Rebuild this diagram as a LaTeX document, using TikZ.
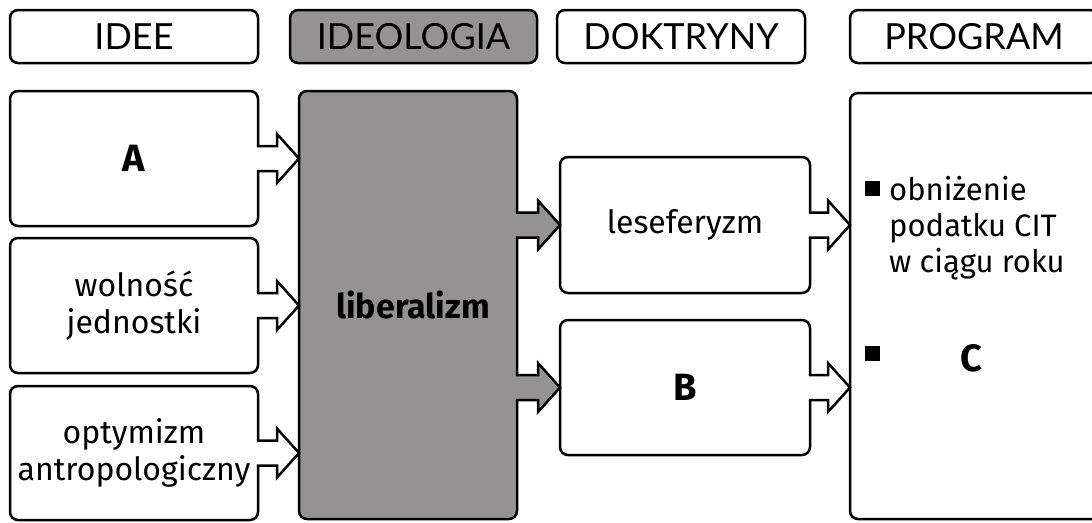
\documentclass[tikz,border=0pt]{standalone}
\usepackage{fontspec}
\setmainfont{Fira Sans}
\newfontfamily\headfont{Lato}
\usetikzlibrary{calc}
\definecolor{boxgray}{RGB}{148,146,147}
\tikzset{
  box/.style={draw=black, line width=2.5pt, rounded corners=8pt, fill=white,
    inner sep=0pt, outer sep=0pt, anchor=north west, align=center},
  graybox/.style={box, fill=boxgray},
  headtxt/.style={font=\headfont\fontsize{36}{40}\selectfont},
  bodytxt/.style={font=\fontsize{32}{37}\selectfont},
  progtxt/.style={font=\fontsize{31}{36}\selectfont},
  bigtxt/.style={font=\bfseries\fontsize{38}{40}\selectfont},
  arrline/.style={draw=black, line width=2.5pt, line join=miter},
}
\newcommand\blockarr[3]{%
  \path (#1.east) coordinate (bs) (#1.east -| #2.west) coordinate (bt);
  \fill[#3] ($(bs)+(-2,-12.5)$) -- ($(bt)+(-22,-12.5)$) -- ($(bt)+(-22,-24.5)$) -- (bt)
     -- ($(bt)+(-22,24.5)$) -- ($(bt)+(-22,12.5)$) -- ($(bs)+(-2,12.5)$) -- cycle;
  \draw[arrline] ($(bs)+(-1.25,-12.5)$) -- ($(bt)+(-22,-12.5)$) -- ($(bt)+(-22,-24.5)$) -- (bt)
     -- ($(bt)+(-22,24.5)$) -- ($(bt)+(-22,12.5)$) -- ($(bs)+(-1.25,12.5)$);
}
\begin{document}
\begin{tikzpicture}[x=1pt,y=-1pt]
\useasboundingbox[fill=white] (0,0) rectangle (1092,522);
\clip (0,0) rectangle (1092,522);
% headers
\node[box, headtxt, minimum width=248pt, minimum height=53pt] (hidee) at (10,10) {IDEE};
\node[graybox, headtxt, minimum width=247pt, minimum height=53pt] (hideo) at (290,10) {IDEOLOGIA};
\node[box, headtxt, minimum width=248pt, minimum height=53pt] (hdokt) at (557,10) {DOKTRYNY};
\node[box, headtxt, minimum width=248pt, minimum height=53pt] (hprog) at (850,10) {PROGRAM};
% ideas
\node[box, bigtxt, minimum width=248pt, minimum height=135pt] (ia) at (10,91) {A};
\node[box, bodytxt, minimum width=248pt, minimum height=135pt] (iw) at (10,238) {wolność\\jednostki};
\node[box, bodytxt, minimum width=248pt, minimum height=134pt] (io) at (10,386) {optymizm\\antropologiczny};
% ideology
\node[graybox, font=\bfseries\fontsize{34}{37}\selectfont, minimum width=218pt, minimum height=428pt] (lib) at (299,91) {\hspace*{10pt}liberalizm};
% doctrines
\node[box, bodytxt, minimum width=250pt, minimum height=136pt] (les) at (560,157) {leseferyzm};
\node[box, bigtxt, minimum width=250pt, minimum height=135pt] (db) at (560,320) {B};
% program
\node[box, minimum width=260pt, minimum height=426pt] (prog) at (850,93) {};
\node[progtxt, anchor=north west, align=left, inner sep=0pt] (p1) at (889,176) {obniżenie\\podatku CIT\\w ciągu roku};
\node[bigtxt, inner sep=0pt] (pc) at (971,358) {C};
\fill (865,181) rectangle (880,196);
\fill (865,346) rectangle (880,361);
% arrows
\blockarr{ia}{lib}{white}
\blockarr{iw}{lib}{white}
\blockarr{io}{lib}{white}
\path (lib.east |- les.west) coordinate (l1) (lib.east |- db.west) coordinate (l2);
\blockarr{l1}{les}{boxgray}
\blockarr{l2}{db}{boxgray}
\blockarr{les}{prog}{white}
\blockarr{db}{prog}{white}
\end{tikzpicture}
\end{document}
